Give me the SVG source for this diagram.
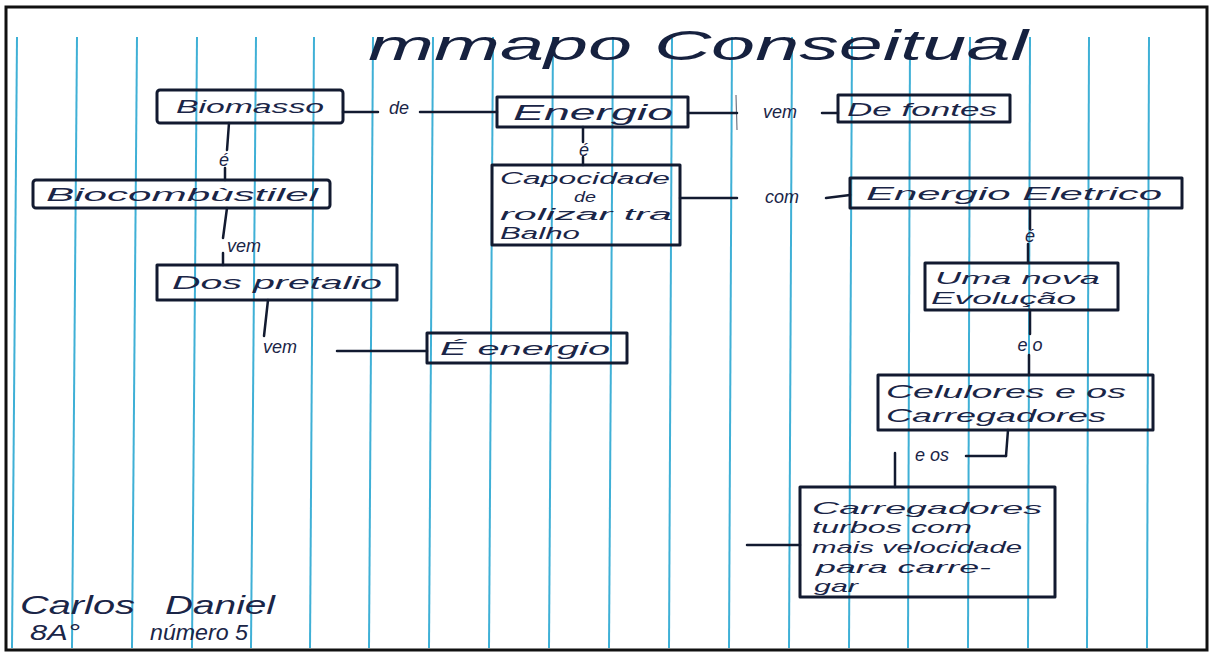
<svg xmlns="http://www.w3.org/2000/svg" width="1211" height="653" viewBox="0 0 1211 653">
<defs>
<style>
.paper{fill:#ffffff}
.rule{stroke:#3fb0d6;stroke-width:2}
.frame{fill:none;stroke:#111111;stroke-width:3}
.box{fill:none;stroke:#121a30;stroke-width:3;stroke-linejoin:round}
.edge{fill:none;stroke:#121a30;stroke-width:2.5;stroke-linecap:round}
.tick{fill:none;stroke:#121a30;stroke-width:1.2;opacity:0.6}
.t{font-family:"Liberation Sans","DejaVu Sans",sans-serif;font-style:italic;fill:#1a2547}
.n{font-size:19px}
.s{font-size:17px}
.lbl{font-size:18px;text-anchor:middle}
.title{font-size:42px;fill:#16213f}
</style>
</defs>
<rect class="paper" x="0" y="0" width="1211" height="653"/>
<g id="rules">
<line class="rule" x1="17" y1="37" x2="12" y2="648"/>
<line class="rule" x1="77" y1="37" x2="72" y2="648"/>
<line class="rule" x1="137" y1="37" x2="132" y2="648"/>
<line class="rule" x1="197" y1="37" x2="192" y2="648"/>
<line class="rule" x1="256" y1="37" x2="251" y2="648"/>
<line class="rule" x1="314" y1="37" x2="310" y2="648"/>
<line class="rule" x1="373" y1="37" x2="369" y2="648"/>
<line class="rule" x1="433" y1="37" x2="429" y2="648"/>
<line class="rule" x1="493" y1="37" x2="489" y2="648"/>
<line class="rule" x1="553" y1="37" x2="549" y2="648"/>
<line class="rule" x1="613" y1="37" x2="609" y2="648"/>
<line class="rule" x1="672" y1="37" x2="669" y2="648"/>
<line class="rule" x1="732" y1="37" x2="729" y2="648"/>
<line class="rule" x1="792" y1="37" x2="789" y2="648"/>
<line class="rule" x1="852" y1="37" x2="849" y2="648"/>
<line class="rule" x1="910" y1="37" x2="908" y2="648"/>
<line class="rule" x1="970" y1="37" x2="968" y2="648"/>
<line class="rule" x1="1030" y1="37" x2="1028" y2="648"/>
<line class="rule" x1="1089" y1="37" x2="1087" y2="648"/>
<line class="rule" x1="1149" y1="37" x2="1147" y2="648"/>
</g>
<rect class="frame" x="6" y="7" width="1201" height="643"/>
<text class="t title" x="368" y="60" textLength="660" lengthAdjust="spacingAndGlyphs">mmapo Conseitual</text>
<g id="connectors">
<line class="edge" x1="343" y1="112" x2="378" y2="112"/>
<line class="edge" x1="420" y1="112" x2="497" y2="112"/>
<text class="t lbl" x="399" y="114">de</text>
<line class="edge" x1="688" y1="113" x2="737" y2="113"/>
<line class="edge" x1="822" y1="113" x2="838" y2="113"/>
<line class="tick" x1="736" y1="95" x2="737" y2="130"/>
<text class="t lbl" x="780" y="118">vem</text>
<line class="edge" x1="229" y1="123" x2="227" y2="150"/>
<line class="edge" x1="225" y1="168" x2="225" y2="180"/>
<text class="t lbl" x="224" y="166">é</text>
<line class="edge" x1="583" y1="127" x2="583" y2="142"/>
<line class="edge" x1="583" y1="157" x2="583" y2="165"/>
<text class="t lbl" x="584" y="156">é</text>
<line class="edge" x1="680" y1="198" x2="737" y2="198"/>
<line class="edge" x1="826" y1="198" x2="850" y2="195"/>
<text class="t lbl" x="782" y="203">com</text>
<line class="edge" x1="227" y1="208" x2="223" y2="238"/>
<line class="edge" x1="223" y1="253" x2="223" y2="265"/>
<text class="t lbl" x="244" y="252">vem</text>
<line class="edge" x1="268" y1="300" x2="264" y2="336"/>
<text class="t lbl" x="280" y="353">vem</text>
<line class="edge" x1="337" y1="351" x2="427" y2="351"/>
<line class="edge" x1="1030" y1="208" x2="1030" y2="229"/>
<line class="edge" x1="1028" y1="244" x2="1028" y2="263"/>
<text class="t lbl" x="1030" y="242">é</text>
<line class="edge" x1="1030" y1="310" x2="1030" y2="334"/>
<line class="edge" x1="1029" y1="355" x2="1029" y2="375"/>
<text class="t lbl" x="1030" y="351">e o</text>
<line class="edge" x1="1008" y1="430" x2="1006" y2="456"/>
<line class="edge" x1="1006" y1="456" x2="966" y2="456"/>
<text class="t lbl" x="932" y="461">e os</text>
<line class="edge" x1="895" y1="453" x2="895" y2="487"/>
<line class="edge" x1="747" y1="545" x2="800" y2="545"/>
</g>
<g id="n-biomasso">
<rect class="box" x="157" y="90" width="186" height="33" rx="3"/>
<text class="t n" x="176" y="113" textLength="148" lengthAdjust="spacingAndGlyphs">Biomasso</text>
</g>
<g id="n-energio">
<rect class="box" x="497" y="97" width="191" height="30"/>
<text class="t" x="513" y="120" font-size="22" textLength="160" lengthAdjust="spacingAndGlyphs">Energio</text>
</g>
<g id="n-defontes">
<rect class="box" x="838" y="95" width="172" height="27"/>
<text class="t n" x="847" y="116" textLength="150" lengthAdjust="spacingAndGlyphs">De fontes</text>
</g>
<g id="n-biocombustivel">
<rect class="box" x="33" y="180" width="297" height="28" rx="3"/>
<text class="t n" x="46" y="201" textLength="272" lengthAdjust="spacingAndGlyphs">Biocombùstilel</text>
</g>
<g id="n-capacidade">
<rect class="box" x="492" y="165" width="188" height="80"/>
<text class="t" x="500" y="184" font-size="16" textLength="170" lengthAdjust="spacingAndGlyphs">Capocidade</text>
<text class="t" x="574" y="202" font-size="14" textLength="22" lengthAdjust="spacingAndGlyphs">de</text>
<text class="t" x="500" y="220" font-size="16" textLength="172" lengthAdjust="spacingAndGlyphs">rolizar tra</text>
<text class="t" x="500" y="239" font-size="16" textLength="80" lengthAdjust="spacingAndGlyphs">Balho</text>
</g>
<g id="n-energioeletrico">
<rect class="box" x="850" y="178" width="332" height="30"/>
<text class="t n" x="866" y="200" textLength="296" lengthAdjust="spacingAndGlyphs">Energio Eletrico</text>
</g>
<g id="n-dospretalio">
<rect class="box" x="157" y="265" width="240" height="35"/>
<text class="t n" x="172" y="289" textLength="210" lengthAdjust="spacingAndGlyphs">Dos pretalio</text>
</g>
<g id="n-eenergio">
<rect class="box" x="427" y="333" width="200" height="30"/>
<text class="t n" x="440" y="355" textLength="170" lengthAdjust="spacingAndGlyphs">É energio</text>
</g>
<g id="n-umanova">
<rect class="box" x="925" y="263" width="193" height="47"/>
<text class="t s" x="935" y="284" textLength="165" lengthAdjust="spacingAndGlyphs">Uma nova</text>
<text class="t s" x="931" y="304" textLength="145" lengthAdjust="spacingAndGlyphs">Evolução</text>
</g>
<g id="n-celulares">
<rect class="box" x="878" y="375" width="275" height="55"/>
<text class="t n" x="886" y="398" textLength="240" lengthAdjust="spacingAndGlyphs">Celulores e os</text>
<text class="t n" x="886" y="422" textLength="220" lengthAdjust="spacingAndGlyphs">Carregadores</text>
</g>
<g id="n-carregadores">
<rect class="box" x="800" y="487" width="255" height="110"/>
<text class="t s" x="812" y="514" textLength="230" lengthAdjust="spacingAndGlyphs">Carregadores</text>
<text class="t s" x="812" y="533" textLength="160" lengthAdjust="spacingAndGlyphs">turbos com</text>
<text class="t s" x="812" y="553" textLength="210" lengthAdjust="spacingAndGlyphs">mais velocidade</text>
<text class="t s" x="816" y="573" textLength="175" lengthAdjust="spacingAndGlyphs">para carre-</text>
<text class="t s" x="814" y="592" textLength="44" lengthAdjust="spacingAndGlyphs">gar</text>
</g>
<g id="signature">
<text class="t" x="20" y="614" font-size="26" textLength="115" lengthAdjust="spacingAndGlyphs">Carlos</text>
<text class="t" x="165" y="614" font-size="26" textLength="110" lengthAdjust="spacingAndGlyphs">Daniel</text>
<text class="t" x="30" y="640" font-size="22" textLength="50" lengthAdjust="spacingAndGlyphs">8A°</text>
<text class="t" x="150" y="640" font-size="22" textLength="98" lengthAdjust="spacingAndGlyphs">número 5</text>
</g>
</svg>
